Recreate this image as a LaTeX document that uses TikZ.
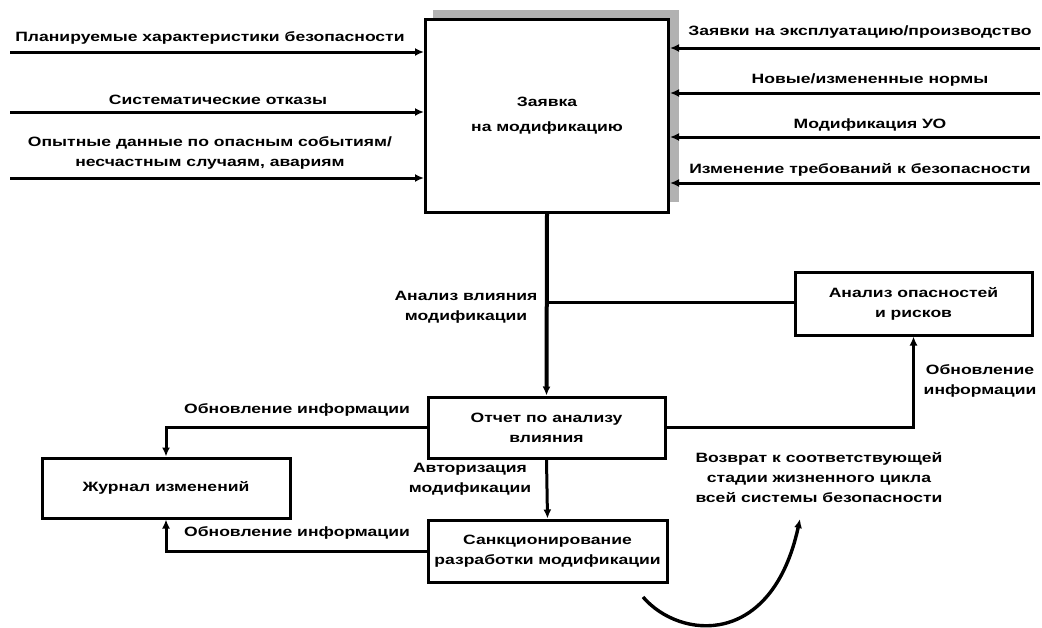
\documentclass[tikz,border=0pt]{standalone}
\usepackage{fontspec}
\setmainfont{Liberation Sans}[FakeStretch=1.3]
\usetikzlibrary{arrows.meta}
\tikzset{
  box/.style={draw, line width=3pt, fill=white, align=center, inner sep=0pt},
  lbl/.style={align=center, inner sep=0pt},
  con/.style={line width=3pt},
  arr/.style={con, -{Latex[length=9pt,width=8pt]}},
}
\begin{document}
\begin{tikzpicture}[x=1pt,y=-1pt, every node/.style={font=\fontsize{13.5}{20}\selectfont\bfseries}]
\useasboundingbox[fill=white] (0,0) rectangle (1042,627);
% shadow of main box
\fill[gray!60] (433,10) rectangle (679,202);
\node[box, minimum width=243pt, minimum height=193pt, font=\fontsize{13.5}{25}\selectfont\bfseries] (main) at (547,115.5) {Заявка\\на модификацию};
\node[box, minimum width=237pt, minimum height=63pt] (anal) at (913.5,303.5) {Анализ опасностей\\и рисков};
\node[box, minimum width=237pt, minimum height=61pt] (otch) at (546.5,427.5) {Отчет по анализу\\влияния};
\node[box, minimum width=248pt, minimum height=60pt] (jour) at (166,488) {Журнал изменений};
\node[box, minimum width=239pt, minimum height=62pt] (sank) at (547.5,551) {Санкционирование\\разработки модификации};

% left inputs
\coordinate (l1) at (10,52);
\coordinate (l2) at (10,112);
\coordinate (l3) at (10,178);
\draw[arr] (l1) -- (l1 -| main.west);
\draw[arr] (l2) -- (l2 -| main.west);
\draw[arr] (l3) -- (l3 -| main.west);
\node[lbl] (t1) at (210,38) {Планируемые характеристики безопасности};
\node[lbl] (t2) at (218,100) {Систематические отказы};
\node[lbl] (t3) at (210,153) {Опытные данные по опасным событиям/\\несчастным случаям, авариям};

% right inputs
\coordinate (r1) at (1040,48);
\coordinate (r2) at (1040,93);
\coordinate (r3) at (1040,137);
\coordinate (r4) at (1040,183);
\draw[arr] (r1) -- (r1 -| main.east);
\draw[arr] (r2) -- (r2 -| main.east);
\draw[arr] (r3) -- (r3 -| main.east);
\draw[arr] (r4) -- (r4 -| main.east);
\node[lbl] (u1) at (860,32) {Заявки на эксплуатацию/производство};
\node[lbl] (u2) at (870,80) {Новые/измененные нормы};
\node[lbl] (u3) at (870,125) {Модификация УО};
\node[lbl] (u4) at (860,170) {Изменение требований к безопасности};

% main flow
\draw[arr, line width=4pt] (main.south) -- (otch.north);
\coordinate (br) at (548.5,302);
\draw[con] (br) -- (br -| anal.west);
\node[lbl] (a1) at (466,307) {Анализ влияния\\модификации};
\draw[arr] (otch.east) -| (anal.south);
\node[lbl] (a2) at (980,381) {Обновление\\информации};
\draw[arr] (otch.south) -- (sank.north);
\node[lbl] (a3) at (470,479) {Авторизация\\модификации};
\draw[arr] (otch.west) -| (jour.north);
\node[lbl] (a4) at (297,410) {Обновление информации};
\draw[arr] (sank.west) -| (jour.south);
\node[lbl] (a5) at (297,533) {Обновление информации};

% return
\node[lbl] (ret) at (819,478) {Возврат к соответствующей\\стадии жизненного цикла\\всей системы безопасности};
\coordinate (c1) at (643,597);
\coordinate (c2) at (800,519);
\draw[arr, line width=3.4pt] (c1) .. controls (680,640) and (772,648) .. (c2);
\end{tikzpicture}
\end{document}
